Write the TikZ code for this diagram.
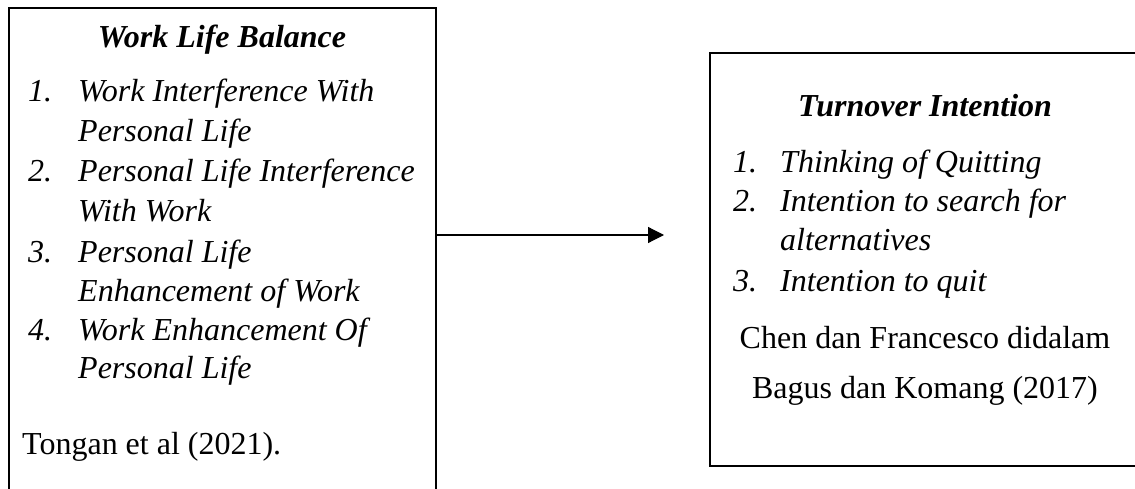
\documentclass[tikz,border=0pt]{standalone}
\usepackage{fontspec}
\setmainfont{Liberation Serif}
\usetikzlibrary{arrows.meta}
\tikzset{
  frame/.style={draw=black, line width=2pt, rectangle, inner sep=0pt},
  txt/.style={inner sep=0pt, anchor=base west, font=\fontsize{32}{40}\selectfont\itshape},
  cite/.style={inner sep=0pt, anchor=base, font=\fontsize{32}{40}\selectfont},
  citel/.style={inner sep=0pt, anchor=base west, font=\fontsize{32}{40}\selectfont},
  ttl/.style={inner sep=0pt, anchor=base, font=\fontsize{32}{40}\selectfont\bfseries\itshape},
  arr/.style={line width=1.2pt, -{Triangle[length=16pt,width=16pt]}}
}
\begin{document}
\begin{tikzpicture}[x=1pt,y=-1pt]
\useasboundingbox (0,0) rectangle (1135,489);
\clip (0,0) rectangle (1135,489);
\fill[white] (0,0) rectangle (1135,489);
% boxes
\node[frame, minimum width=427pt, minimum height=522pt] (lbox) at (222.5,269) {};
\node[frame, minimum width=440pt, minimum height=413pt] (rbox) at (930,259.5) {};
% left box text
\node[ttl] (lt) at (222,48) {Work Life Balance};
\node[txt] (ln1) at (28,102) {1.};
\node[txt] (li1a) at (78,102) {Work Interference With};
\node[txt] (li1b) at (78,142) {Personal Life};
\node[txt] (ln2) at (28,182) {2.};
\node[txt] (li2a) at (78,182) {Personal Life Interference};
\node[txt] (li2b) at (78,222) {With Work};
\node[txt] (ln3) at (28,262) {3.};
\node[txt] (li3a) at (78,262) {Personal Life};
\node[txt] (li3b) at (78,301) {Enhancement of Work};
\node[txt] (ln4) at (28,340) {4.};
\node[txt] (li4a) at (78,340) {Work Enhancement Of};
\node[txt] (li4b) at (78,378) {Personal Life};
\node[citel] (lc) at (22,454) {Tongan et al (2021).};
% right box text
\node[ttl] (rt) at (925,117) {Turnover Intention};
\node[txt] (rn1) at (733,173) {1.};
\node[txt] (ri1) at (780,173) {Thinking of Quitting};
\node[txt] (rn2) at (733,212) {2.};
\node[txt] (ri2a) at (780,212) {Intention to search for};
\node[txt] (ri2b) at (780,251) {alternatives};
\node[txt] (rn3) at (733,291) {3.};
\node[txt] (ri3) at (780,291) {Intention to quit};
\node[cite] (rc1) at (925,348) {Chen dan Francesco didalam};
\node[cite] (rc2) at (925,398) {Bagus dan Komang (2017)};
% arrow
\coordinate (tip) at (664,235);
\draw[arr] (tip -| lbox.east) -- (tip);
\end{tikzpicture}
\end{document}
